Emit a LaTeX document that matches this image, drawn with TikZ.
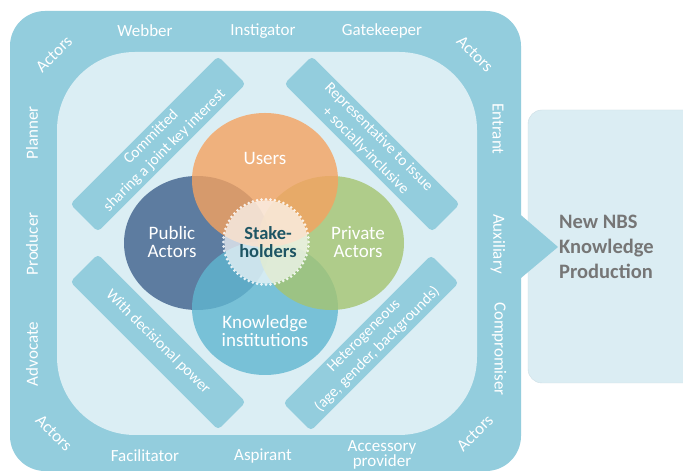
\documentclass[tikz,border=0pt]{standalone}
\usepackage{fontspec}
\setmainfont{Carlito}
\definecolor{ring}{RGB}{147,205,221}
\definecolor{innerC}{RGB}{219,238,244}
\definecolor{usersC}{RGB}{245,162,96}
\definecolor{publicC}{RGB}{62,96,140}
\definecolor{privateC}{RGB}{165,196,112}
\definecolor{knowC}{RGB}{96,182,208}
\definecolor{stakeT}{RGB}{30,85,100}
\definecolor{nbsT}{RGB}{118,118,118}
\definecolor{rbox}{RGB}{219,237,243}
\definecolor{rboxline}{RGB}{205,222,229}
\begin{document}
\begin{tikzpicture}[x=1pt,y=1pt,
  ringlabel/.style={text=white, font=\fontsize{17}{14}\selectfont, align=center, inner sep=0},
  circlabel/.style={text=white, font=\fontsize{19}{18}\selectfont, align=center, inner sep=0},
  bar/.style={fill=ring, rounded corners=4, minimum width=209, minimum height=39, inner sep=0,
              text=white, font=\fontsize{15.5}{19}\selectfont, align=center},
  venn/.style={fill opacity=0.8}]
\useasboundingbox (0,0) rectangle (683,473);
\clip (0,0) rectangle (683,473);
\fill[white] (0,0) rectangle (683,473);
% right box
\draw[rboxline, fill=rbox, rounded corners=14] (528,90) rectangle (720,363);
% outer ring
\fill[ring, rounded corners=35] (10,2) rectangle (521,462);
\fill[ring] (515,263) -- (558,226) -- (515,190) -- cycle;
% inner panel
\fill[innerC, rounded corners=78] (57,38) rectangle (477,421);
% bars
\node[bar, rotate=45]  (tl) at (158,329) {Committed\\sharing a joint key interest};
\node[bar, rotate=-45] (tr) at (372,329) {Representative to issue\\+ socially-inclusive};
\node[bar, rotate=-45] (bl) at (158,131) {With decisional power};
\node[bar, rotate=45]  (br) at (371,130) {Heterogeneous\\(age, gender, backgrounds)};
% venn
\fill[publicC, venn]  (197,230) ellipse (73 and 67);
\fill[knowC, venn]    (265,165) ellipse (73 and 67);
\fill[privateC, venn] (331,230) ellipse (73 and 67);
\fill[usersC, venn]   (265,293) ellipse (73 and 67);
% stakeholders burst
\fill[white, fill opacity=0.68] (266,231) circle (41.6);
\foreach \a in {0,6,...,354} \fill[white, fill opacity=0.85] (266,231) ++(\a:42.6) circle (1.5);
% circle labels
\node[circlabel] (users) at (265,315) {Users};
\node[circlabel] (public) at (172,231) {Public\\Actors};
\node[circlabel] (private) at (358,231) {Private\\Actors};
\node[circlabel] (know) at (265,142) {Knowledge\\institutions};
\node[text=stakeT, font=\fontsize{18.5}{18}\selectfont\bfseries, align=center, inner sep=0] (stake) at (268,231) {Stake-\\holders};
% ring labels
\node[ringlabel] (webber) at (145,442) {Webber};
\node[ringlabel] (instig) at (263,442) {Instigator};
\node[ringlabel] (gate) at (382,442) {Gatekeeper};
\node[ringlabel] (facil) at (145,17) {Facilitator};
\node[ringlabel] (aspir) at (263,17) {Aspirant};
\node[ringlabel] (access) at (382,18) {Accessory\\provider};
\node[ringlabel, rotate=90] (planner) at (32,340) {Planner};
\node[ringlabel, rotate=90] (producer) at (32,229) {Producer};
\node[ringlabel, rotate=90] (advocate) at (32,119) {Advocate};
\node[ringlabel, rotate=-90] (entrant) at (498,344) {Entrant};
\node[ringlabel, rotate=-90] (aux) at (498,229) {Auxiliary};
\node[ringlabel, rotate=-90] (comp) at (499,124) {Compromiser};
\node[ringlabel, rotate=45] (a1) at (54,419) {Actors};
\node[ringlabel, rotate=-45] (a2) at (475,419) {Actors};
\node[ringlabel, rotate=-45] (a3) at (54,40) {Actors};
\node[ringlabel, rotate=45] (a4) at (475,40) {Actors};
% result text
\node[anchor=west, text=nbsT, font=\fontsize{20.5}{25}\selectfont\bfseries, align=left, inner sep=0] (nbs) at (559,226) {New NBS\\Knowledge\\Production};
\end{tikzpicture}
\end{document}
